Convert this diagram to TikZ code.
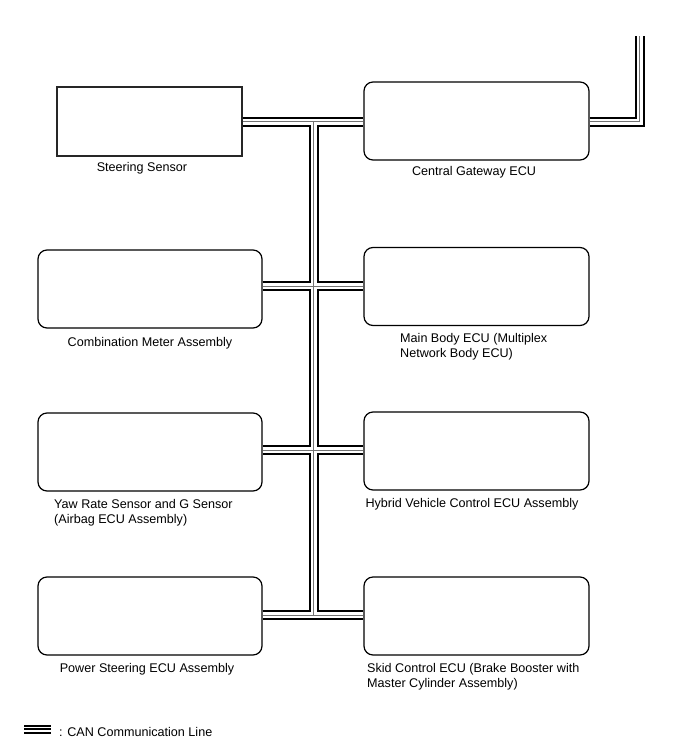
\documentclass[tikz,border=0pt]{standalone}
\usepackage{fontspec}
\setmainfont{Liberation Sans}
\begin{document}
\begin{tikzpicture}[x=1pt,y=-1pt,
  ecu/.style={draw=black,line width=1.2pt,rounded corners=9pt,minimum width=225pt,minimum height=78pt,inner sep=0pt},
  sensor/.style={draw=black!85,line width=1.1pt,minimum width=185pt,minimum height=69pt,inner sep=0pt},
  lbl/.style={inner sep=0pt,font=\fontsize{12.6}{14.5}\selectfont,text=black},
  busblack/.style={draw=black,line width=10pt,line join=miter},
  buswhite/.style={draw=white,line width=6pt,line join=miter},
  busgray/.style={draw=black!55,line width=1pt,line join=miter},
  legline/.style={draw=black,line width=1.4pt}]
\useasboundingbox (0,0) rectangle (688,755);
\fill[white] (0,0) rectangle (688,755);

% boxes
\node[sensor] (ss) at (149.5,121.5) {};
\node[ecu] (cg) at (476.5,121) {};
\node[ecu,minimum width=224pt] (cm) at (150,289) {};
\node[ecu] (mb) at (476.5,286.5) {};
\node[ecu,minimum width=224pt] (yr) at (150,452) {};
\node[ecu] (hv) at (476.5,451) {};
\node[ecu,minimum width=224pt] (ps) at (150,616) {};
\node[ecu] (sk) at (476.5,616) {};

% labels
\node[lbl] (lss) at (142,168) {Steering Sensor};
\node[lbl] (lcg) at (474,172) {Central Gateway ECU};
\node[lbl] (lcm) at (150,343) {Combination Meter Assembly};
\node[lbl,align=left,anchor=west] (lmb) at (400,346.5) {Main Body ECU (Multiplex\\Network Body ECU)};
\node[lbl,align=left,anchor=west] (lyr) at (54,512.5) {Yaw Rate Sensor and G Sensor\\(Airbag ECU Assembly)};
\node[lbl] (lhv) at (472,504) {Hybrid Vehicle Control ECU Assembly};
\node[lbl] (lps) at (147,669) {Power Steering ECU Assembly};
\node[lbl,align=left,anchor=west] (lsk) at (367,676.5) {Skid Control ECU (Brake Booster with\\Master Cylinder Assembly)};

% bus coordinates
\coordinate (j1) at (313.5,121.5);
\coordinate (j2) at (313.5,286);
\coordinate (j3) at (313.5,450);
\coordinate (j4) at (313.5,615);
\coordinate (corner) at (639.5,121.5);
\coordinate (topend) at (639.5,36);

\def\buspaths{
  (ss.east |- j1) -- (cg.west |- j1)
  (j1) -- (j4)
  (cm.east |- j2) -- (mb.west |- j2)
  (yr.east |- j3) -- (hv.west |- j3)
  (ps.east |- j4) -- (sk.west |- j4)
  (cg.east |- corner) -- (corner) -- (topend)
}
\path[busblack] \buspaths;
\path[buswhite] \buspaths;
\path[busgray] \buspaths;

% legend
\coordinate (la1) at (24,725.8);
\coordinate (lb1) at (51,725.8);
\coordinate (la2) at (24,729);
\coordinate (lb2) at (51,729);
\coordinate (la3) at (24,732.8);
\coordinate (lb3) at (51,732.8);
\draw[legline] (la1) -- (lb1);
\draw[legline] (la2) -- (lb2);
\draw[legline,line width=2pt] (la3) -- (lb3);
\node[lbl,anchor=west] (leg) at (59,732) {: CAN Communication Line};
\end{tikzpicture}
\end{document}
